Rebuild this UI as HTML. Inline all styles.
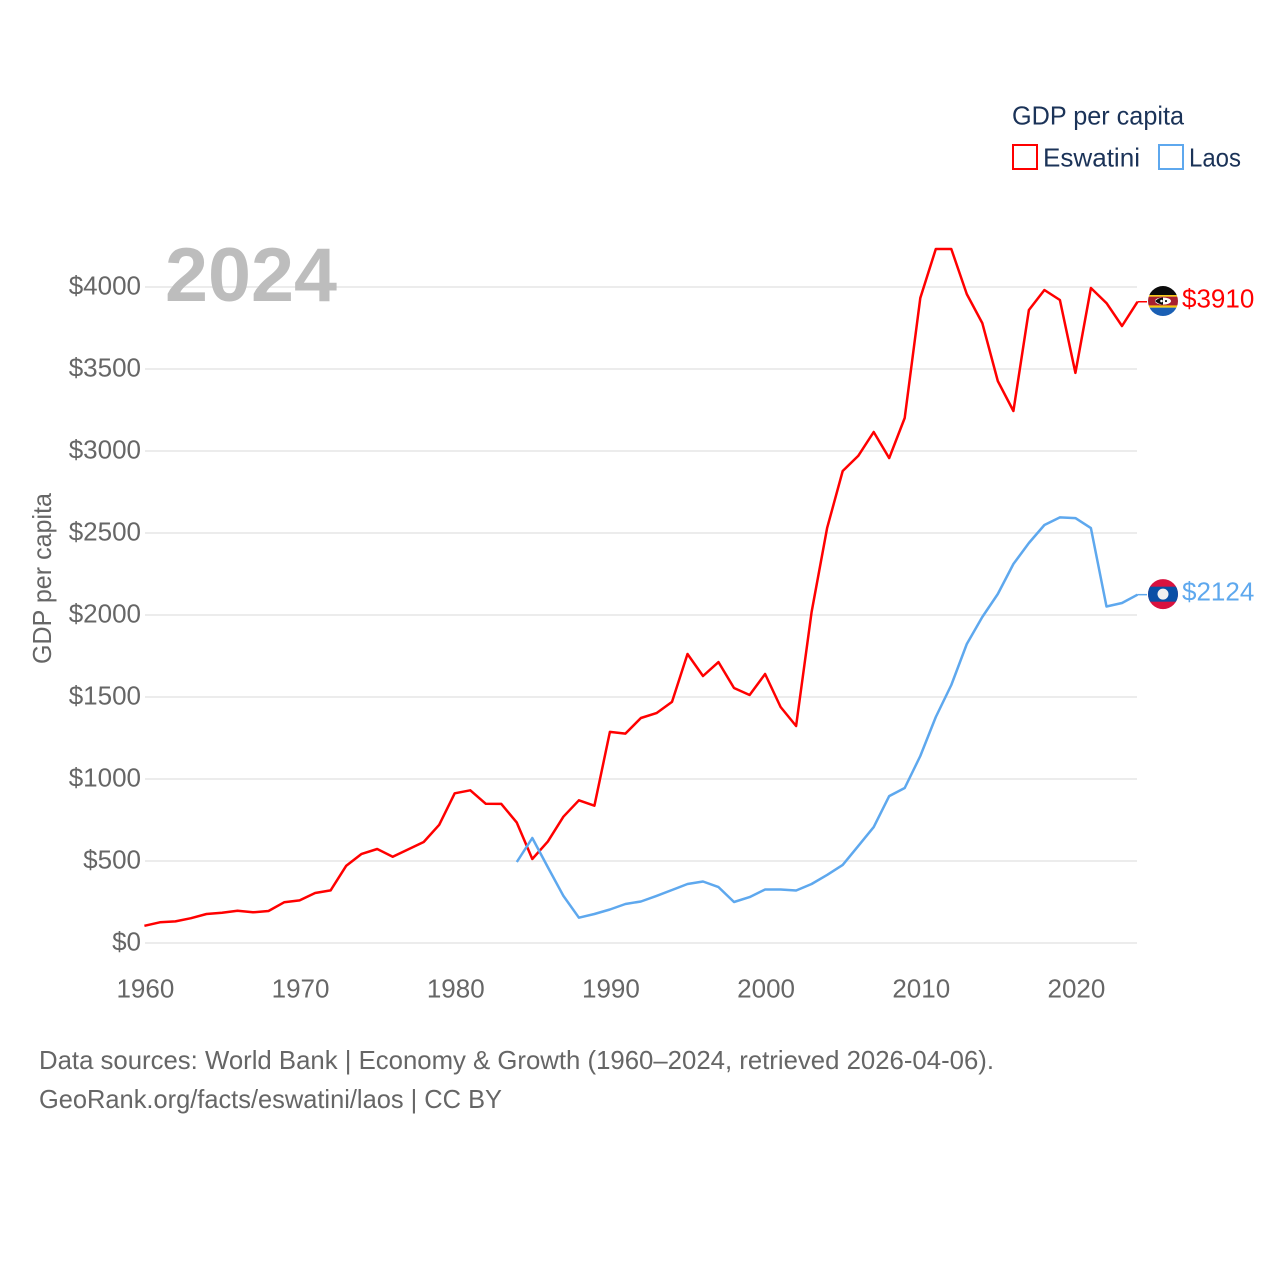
<!DOCTYPE html>
<html lang="en">
<head>
<meta charset="utf-8">
<title>GDP per capita: Eswatini and Laos</title>
<style>
html,body{margin:0;padding:0;background:#fff;}
svg{display:block;}
text{font-family:"Liberation Sans",sans-serif;}
</style>
</head>
<body>
<svg id="chart" width="1280" height="1280" viewBox="0 0 1280 1280" xmlns="http://www.w3.org/2000/svg">
  <defs>
    <clipPath id="sz-clip"><circle cx="0" cy="0" r="15"/></clipPath>
    <clipPath id="la-clip"><circle cx="0" cy="0" r="15"/></clipPath>
  </defs>
  <g id="grid"></g>
  <text x="165" y="301" font-size="76" font-weight="700" fill="#bdbdbd" textLength="172" lengthAdjust="spacingAndGlyphs">2024</text>
  <g id="yticks"></g>
  <g id="xticks"></g>
  <text transform="translate(51,664) rotate(-90)" font-size="26" fill="#666" textLength="171" lengthAdjust="spacingAndGlyphs">GDP per capita</text>
  <g id="series"></g>
  <g id="ends"></g>
  <g>
    <text x="1012" y="124.5" font-size="26" fill="#1b3358" textLength="172" lengthAdjust="spacingAndGlyphs">GDP per capita</text>
    <rect x="1013" y="145" width="24" height="24" fill="#fff" stroke="#ff0000" stroke-width="2"/>
    <text x="1043" y="166.5" font-size="26" fill="#1b3358" textLength="97" lengthAdjust="spacingAndGlyphs">Eswatini</text>
    <rect x="1159" y="145" width="24" height="24" fill="#fff" stroke="#5ea8ee" stroke-width="2"/>
    <text x="1189" y="166.5" font-size="26" fill="#1b3358" textLength="52" lengthAdjust="spacingAndGlyphs">Laos</text>
  </g>
  <g>
    <text x="39" y="1069" font-size="26" fill="#666" textLength="955" lengthAdjust="spacingAndGlyphs">Data sources: World Bank | Economy &amp; Growth (1960–2024, retrieved 2026-04-06).</text>
    <text x="39" y="1108" font-size="26" fill="#666" textLength="463" lengthAdjust="spacingAndGlyphs">GeoRank.org/facts/eswatini/laos | CC BY</text>
  </g>
</svg>
<script>
const yTicks = [0, 500, 1000, 1500, 2000, 2500, 3000, 3500, 4000];
const xTicks = [1960, 1970, 1980, 1990, 2000, 2010, 2020];
const eswatiniStartYear = 1960;
const eswatiniValues = [105,126,132,151,177,185,197,187,195,248,260,305,321,470,543,573,526,571,616,721,913,931,849,848,734,512,618,770,870,837,1287,1277,1372,1402,1470,1762,1628,1713,1555,1512,1640,1439,1323,2018,2530,2878,2970,3116,2957,3201,3933,4232,4232,3957,3780,3427,3244,3860,3982,3921,3476,3994,3902,3762,3910];
const laosStartYear = 1984;
const laosValues = [494,640,463,287,154,177,204,238,253,287,323,360,375,341,250,280,326,326,320,360,415,476,591,707,896,945,1140,1378,1573,1823,1988,2128,2311,2439,2549,2595,2591,2530,2052,2073,2124];

const NS = 'http://www.w3.org/2000/svg';
function xScale(year){ return 144.4 + (year - 1960) * 15.517; }
function yScale(v){ return 943 - v * 0.164; }
function make(tag, attrs, parent){
  const el = document.createElementNS(NS, tag);
  for (const k in attrs) el.setAttribute(k, attrs[k]);
  parent.appendChild(el);
  return el;
}
const grid = document.getElementById('grid');
const yG = document.getElementById('yticks');
const xG = document.getElementById('xticks');
const seriesG = document.getElementById('series');
const endsG = document.getElementById('ends');

yTicks.forEach(function(v){
  const line = make('line', {x1:145, x2:1137, y1:yScale(v), y2:yScale(v), stroke:'#ececec', 'stroke-width':2}, grid);
  
  
  const t = make('text', {x:141, y:yScale(v)+7.5, 'text-anchor':'end', 'font-size':26, fill:'#666'}, yG);
  
  
  t.textContent = '$' + v;
});
xTicks.forEach(function(y){
  const t = make('text', {x:xScale(y)+1, y:997.5, 'text-anchor':'middle', 'font-size':26, fill:'#666'}, xG);
  
  
  t.textContent = y;
});
function points(start, values){
  return values.map(function(v, i){ return xScale(start + i).toFixed(1) + ',' + yScale(v).toFixed(1); }).join(' ');
}
const redLine = make('polyline', {points:points(eswatiniStartYear, eswatiniValues), fill:'none', stroke:'#ff0000', 'stroke-width':2.5, 'stroke-linejoin':'round'}, seriesG);


const blueLine = make('polyline', {points:points(laosStartYear, laosValues), fill:'none', stroke:'#5ea8ee', 'stroke-width':2.5, 'stroke-linejoin':'round'}, seriesG);



const lastX = xScale(2024);
const esLast = eswatiniValues[eswatiniValues.length - 1];
const laLast = laosValues[laosValues.length - 1];

const c1 = make('line', {x1:lastX, x2:1147, y1:yScale(esLast), y2:yScale(esLast), stroke:'#ff0000', 'stroke-width':1.5}, endsG);


const c2 = make('line', {x1:lastX, x2:1147, y1:yScale(laLast), y2:yScale(laLast), stroke:'#5ea8ee', 'stroke-width':1.5}, endsG);



const szFlag = make('g', {transform:'translate(1163,' + (yScale(esLast) - 0.7) + ')'}, endsG);


const szInner = make('g', {'clip-path':'url(#sz-clip)'}, szFlag);
make('rect', {x:-16, y:-16, width:32, height:10, fill:'#0b0b0b'}, szInner);
make('rect', {x:-16, y:-6, width:32, height:1.6, fill:'#f6c90e'}, szInner);
make('rect', {x:-16, y:-4.4, width:32, height:8.8, fill:'#a8202f'}, szInner);
make('rect', {x:-16, y:4.4, width:32, height:2.2, fill:'#f6c90e'}, szInner);
make('rect', {x:-16, y:6.6, width:32, height:10, fill:'#1a5fb4'}, szInner);
make('ellipse', {cx:0, cy:0, rx:8, ry:3.6, fill:'#fff'}, szInner);
make('path', {d:'M-8,0 Q-4,-3.6 0,-3.6 L0,3.6 Q-4,3.6 -8,0Z', fill:'#0b0b0b'}, szInner);
make('circle', {cx:-1.5, cy:0, r:1.3, fill:'#fff'}, szInner);
make('circle', {cx:3, cy:0, r:1.1, fill:'#0b0b0b'}, szInner);

const laFlag = make('g', {transform:'translate(1163,' + (yScale(laLast) - 0.5) + ')'}, endsG);


const laInner = make('g', {'clip-path':'url(#la-clip)'}, laFlag);
make('rect', {x:-16, y:-16, width:32, height:32, fill:'#d9123f'}, laInner);
make('rect', {x:-16, y:-7.5, width:32, height:15, fill:'#0a4fa6'}, laInner);
make('circle', {cx:0, cy:0, r:5.5, fill:'#f0f0f0'}, laInner);

const l1 = make('text', {x:1182, y:yScale(esLast)+5.5, 'font-size':26, fill:'#ff0000'}, endsG);


l1.textContent = '$' + esLast;
const l2 = make('text', {x:1182, y:yScale(laLast)+6, 'font-size':26, fill:'#5ea8ee'}, endsG);


l2.textContent = '$' + laLast;
</script>
</body>
</html>
